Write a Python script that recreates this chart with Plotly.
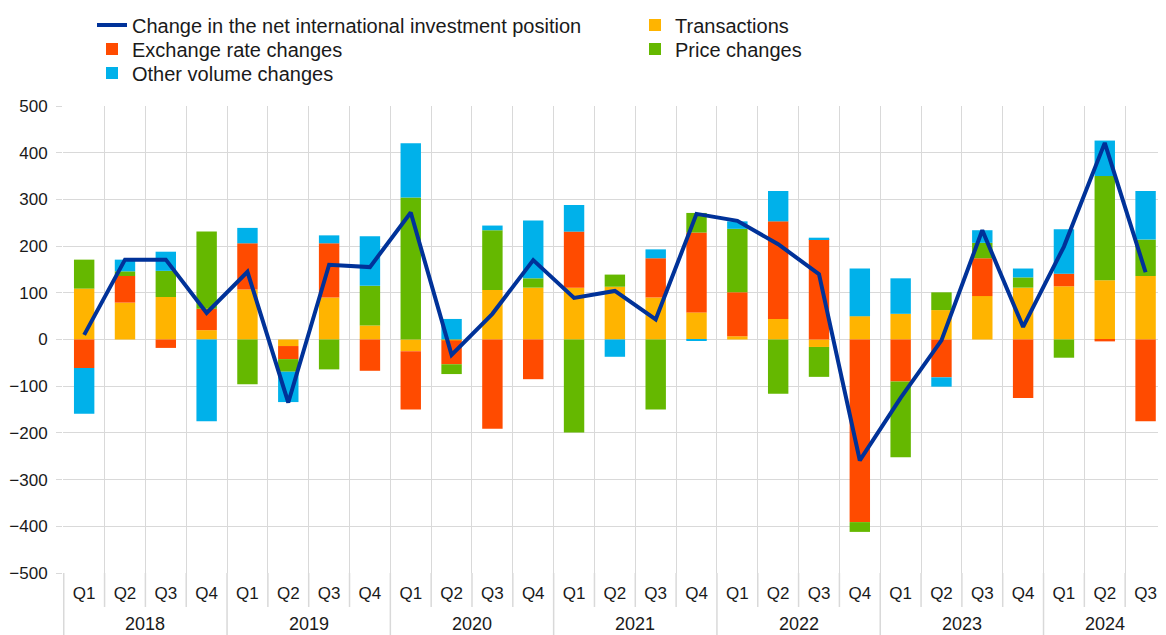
import plotly.graph_objects as go

years = ["2018"] * 4 + ["2019"] * 4 + ["2020"] * 4 + ["2021"] * 4 + ["2022"] * 4 + ["2023"] * 4 + ["2024"] * 3
quarters = ["Q1", "Q2", "Q3", "Q4"] * 6 + ["Q1", "Q2", "Q3"]

net_change = [10, 171, 171, 57, 145, -135, 160, 155, 272, -33, 55, 170,
              89, 104, 43, 269, 254, 204, 140, -259, -125, -2, 234, 27, 199, 421, 144]
transactions = [109, 79, 91, 20, 107, -14, 90, 30, -25, -2, 106, 111,
                111, 113, 90, 58, 7, 44, -16, 50, 55, 63, 93, 111, 114, 127, 136]
exchange_rate = [-61, 57, -18, 46, 99, -28, 116, -67, -125, -51, -191, -85,
                 120, 0, 84, 171, 94, 209, 215, -391, -90, -81, 81, -125, 27, -4, -175]
price_changes = [62, 10, 56, 165, -96, -27, -64, 85, 304, -21, 128, 20,
                 -199, 26, -150, 42, 136, -116, -64, -21, -162, 38, 33, 22, -39, 223, 78]
other_volume = [-98, 25, 41, -175, 33, -65, 17, 106, 116, 44, 10, 124,
                57, -37, 19, -3, 16, 65, 3, 102, 76, -20, 27, 19, 95, 76, 104]

y_ticks = [-500, -400, -300, -200, -100, 0, 100, 200, 300, 400, 500]

FONT = "Arial, Liberation Sans, sans-serif"
GRID = "#d9d9d9"
TXT = "#1a1a1a"
W, H = 1158, 627  # page body has an 8px margin

cats = [f"{y} {q}" for y, q in zip(years, quarters)]

fig = go.Figure()
bar_specs = [
    ("Transactions", transactions, "#FFB400", "legend", 2),
    ("Exchange rate changes", exchange_rate, "#FF4B00", "legend2", 1),
    ("Price changes", price_changes, "#65B800", "legend2", 2),
    ("Other volume changes", other_volume, "#00B1EA", "legend3", 1),
]
for name, vals, col, lg, rank in bar_specs:
    fig.add_trace(go.Bar(x=cats, y=vals, name=name, legend=lg, legendrank=rank,
                         marker=dict(color=col, line=dict(width=0))))
fig.add_trace(go.Scatter(x=cats, y=net_change, mode="lines", legend="legend", legendrank=1,
                         name="Change in the net international investment position",
                         line=dict(color="#003299", width=4)))

# separators in the category label area
shapes = []
for i, q in enumerate(quarters):
    depth = -62 if q == "Q1" else -34
    shapes.append(dict(type="line", xref="x", yref="paper", ysizemode="pixel", yanchor=0,
                       x0=i - 0.5, x1=i - 0.5, y0=0, y1=depth,
                       line=dict(color=GRID, width=1.5)))

# year labels centred under their quarters
annotations = []
for yr in dict.fromkeys(years):
    idx = [i for i, y in enumerate(years) if y == yr]
    annotations.append(dict(x=sum(idx) / len(idx), xref="x", y=0, yref="paper", yshift=-51,
                            text=yr, showarrow=False, yanchor="middle", borderpad=0,
                            font=dict(size=18, color=TXT, family=FONT)))

leg_common = dict(orientation="h", xref="container", yref="container", xanchor="left",
                  yanchor="middle", traceorder="normal", font=dict(size=20, color=TXT, family=FONT),
                  entrywidth=498, itemwidth=30, bgcolor="rgba(0,0,0,0)")
x_leg = 84 / W
fig.update_layout(
    width=W, height=H,
    barmode="relative", bargap=0.5,
    plot_bgcolor="white", paper_bgcolor="white",
    font=dict(family=FONT, size=17, color=TXT),
    margin=dict(l=55, r=0, t=98, b=62, autoexpand=False),
    legend=dict(leg_common, x=x_leg, y=1 - 17 / H),
    legend2=dict(leg_common, x=x_leg, y=1 - 41 / H),
    legend3=dict(leg_common, x=x_leg, y=1 - 65 / H),
    showlegend=True,
    shapes=shapes,
    annotations=annotations,
)

fig.update_xaxes(type="category", tickvals=cats, ticktext=quarters, tickson="boundaries",
                 showgrid=True, gridcolor=GRID, gridwidth=1, ticks="", ticklabelstandoff=8,
                 showline=False, tickfont=dict(size=17, color=TXT))
fig.update_yaxes(range=[-500, 500], tickvals=y_ticks, showgrid=True, gridcolor=GRID,
                 gridwidth=1, zeroline=False, ticks="outside", ticklen=6, tickcolor=GRID,
                 ticklabelstandoff=5, tickfont=dict(size=17, color=TXT), showline=False)

fig.write_html("out.html")
